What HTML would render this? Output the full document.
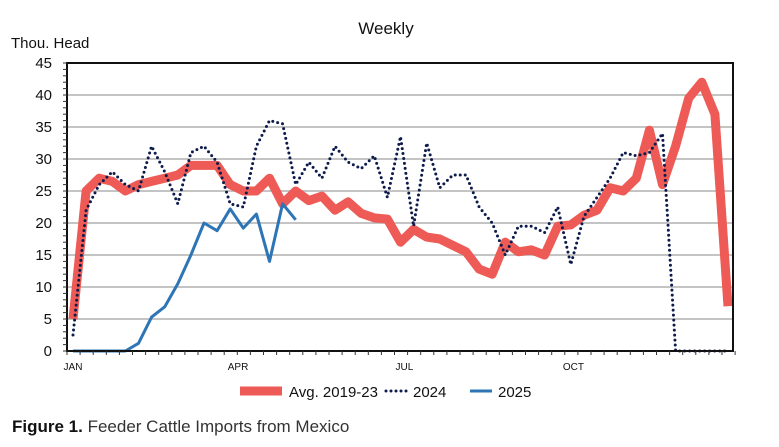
<!DOCTYPE html>
<html><head><meta charset="utf-8"><style>
body{margin:0;background:#fff;font-family:"Liberation Sans",sans-serif;}
svg{display:block}
</style></head><body>
<svg id="c" width="779" height="447" viewBox="0 0 779 447">
<text x="386" y="34" font-size="17" text-anchor="middle" fill="#111">Weekly</text>
<text x="11" y="48" font-size="15" fill="#111">Thou. Head</text>
<g id="grid"></g>
<g id="series"></g>
<rect x="67" y="63" width="666" height="288" fill="none" stroke="#111" stroke-width="2"/>
<g id="axes"></g>
<g>
<line x1="240" y1="391" x2="282" y2="391" stroke="#EE5A55" stroke-width="9"/>
<text x="289" y="397" font-size="15" fill="#111">Avg. 2019-23</text>
<line x1="386" y1="391" x2="408" y2="391" stroke="#0D1B4C" stroke-width="3" stroke-dasharray="0 5" stroke-linecap="round"/>
<text x="413" y="397" font-size="15" fill="#111">2024</text>
<line x1="470" y1="391" x2="492" y2="391" stroke="#2E75B6" stroke-width="3"/>
<text x="498" y="397" font-size="15" fill="#111">2025</text>
</g>
<text x="12" y="432" font-size="17" fill="#333"><tspan font-weight="bold" fill="#111">Figure 1.</tspan> Feeder Cattle Imports from Mexico</text>
</svg>
<script>
const avgValues=[5,25,27,26.5,25,26,26.5,27,27.5,29,29,29,26,25,25,27,23,25,23.5,24.2,22,23.3,21.5,20.8,20.6,17,19,17.8,17.5,16.5,15.5,12.8,12,17,15.5,15.8,15,19.5,19.7,21.2,22,25.5,25,27,34.5,26,32,39.5,42,37,7];
const values2024=[2.5,22,26,28,26,25,32,28,23,31,32,29.5,23,22.5,32,36,35.5,26,29.5,27,32,29.5,28.5,30.5,24,33.5,19.5,32.5,25.5,27.5,27.5,22.5,20,15,19.5,19.5,18.5,22.5,13.5,21,24,27,31,30.5,31,34,0,0,0,0,0];
const values2025=[0,0,0,0,0,1.2,5.3,6.9,10.5,15,20,18.8,22.2,19.2,21.4,14,23,20.5];
const yTicks=[0,5,10,15,20,25,30,35,40,45];
const monthLabels=["JAN","APR","JUL","OCT"];
const monthWeeks=[0,12.6,25.3,38.2];
const NS="http://www.w3.org/2000/svg";
const X=i=>73+i*13.1, Y=v=>351-v*6.4;
const grid=document.getElementById('grid'),axes=document.getElementById('axes'),ser=document.getElementById('series');
function mk(tag,attrs,parent){const e=document.createElementNS(NS,tag);for(const k in attrs)e.setAttribute(k,attrs[k]);parent.appendChild(e);return e;}
yTicks.forEach(t=>{
 if(t>0&&t<45){const l=mk('line',{x1:67,x2:733,y1:Y(t),y2:Y(t),stroke:'#b0b0b0','stroke-width':1.5},grid);
 
 }
 const tx=mk('text',{x:52,y:Y(t)+5,'font-size':15,'text-anchor':'end',fill:'#111'},axes);tx.textContent=t;
 
 
});
for(let v=0;v<=45;v++){mk('line',{x1:63,x2:67,y1:Y(v),y2:Y(v),stroke:'#333','stroke-width':1},axes);}
for(let i=0;i<=51;i++){mk('line',{x1:X(i)-6,x2:X(i)-6,y1:351,y2:355,stroke:'#333','stroke-width':1},axes);}
monthLabels.forEach((m,k)=>{const tx=mk('text',{x:X(monthWeeks[k]),y:370,'font-size':10,'text-anchor':'middle',fill:'#111'},axes);tx.textContent=m;
 
 });
const pts=a=>a.map((v,i)=>X(i)+','+Y(v)).join(' ');
const r=mk('polyline',{points:pts(avgValues),fill:'none',stroke:'#EE5A55','stroke-width':9,'stroke-linejoin':'round'},ser);


const d=mk('polyline',{points:pts(values2024),fill:'none',stroke:'#0D1B4C','stroke-width':3,'stroke-dasharray':'0 5','stroke-linecap':'round'},ser);


const b=mk('polyline',{points:pts(values2025),fill:'none',stroke:'#2E75B6','stroke-width':3,'stroke-linejoin':'round'},ser);


</script>
</body></html>
